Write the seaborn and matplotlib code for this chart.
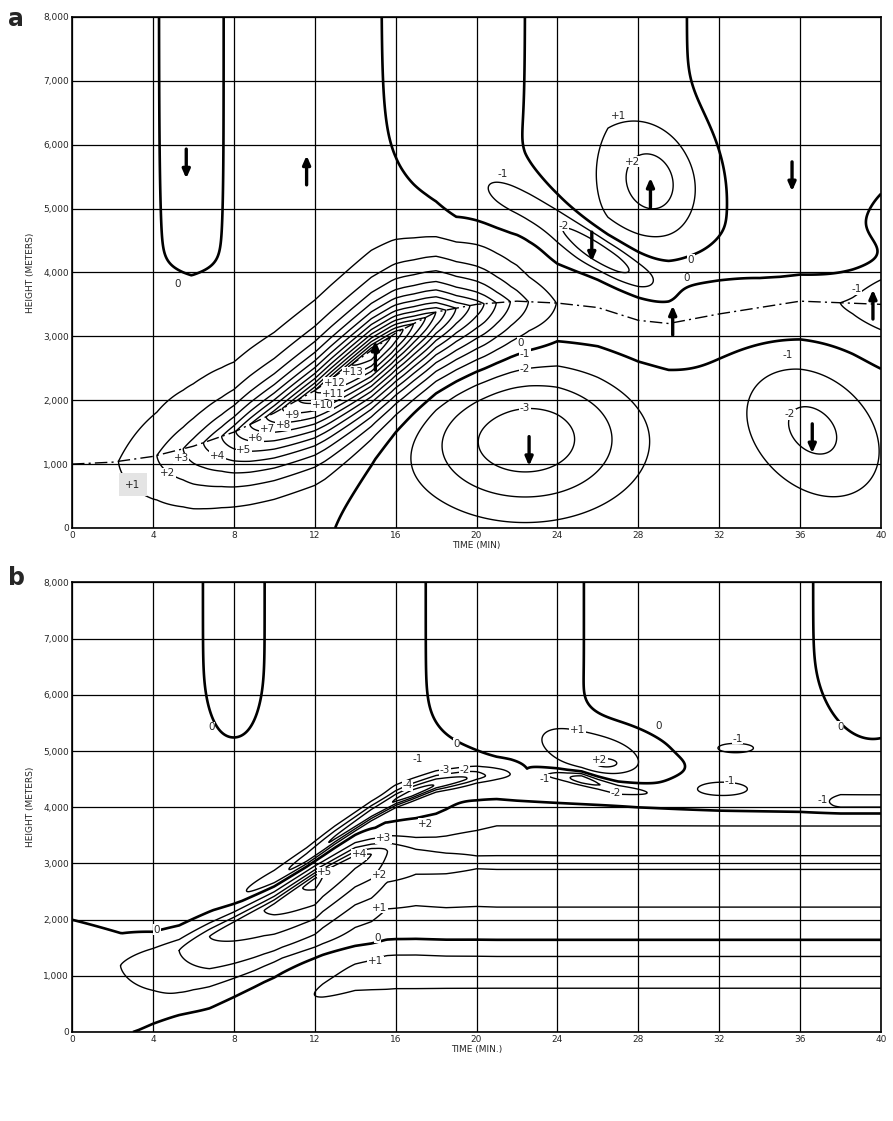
import numpy as np
import matplotlib
matplotlib.use("Agg")
import matplotlib.pyplot as plt
import seaborn as sns

sns.set_style("white")
plt.rcParams["font.family"] = ["DejaVu Sans"]
plt.rcParams["contour.negative_linestyle"] = "solid"

# model grid (time in min, height in km)
t = np.linspace(0, 40, 801)
h = np.linspace(0, 8, 801)
T, H = np.meshgrid(t, h)

# ---------------- panel a : values ----------------
# dash-dot ridge axis of the main updraft
ridge_t = [0, 2, 4, 6, 8, 10, 12, 14, 16, 18, 20, 22, 24, 26, 28, 29.5, 32, 36, 40]
ridge_h = [1.0, 1.03, 1.12, 1.28, 1.5, 1.8, 2.15, 2.6, 3.05, 3.38, 3.5, 3.55, 3.52, 3.45, 3.25, 3.2, 3.35, 3.55, 3.5]
# peak vertical velocity along the ridge (m/s)
peak_t = [0, 2.3, 4.2, 5.5, 6.5, 7.4, 8.1, 8.8, 9.6, 10.4, 11.2, 12.0, 12.8, 13.8, 14.8, 15.8, 16.4, 16.9,
          17.5, 18.0, 18.5, 19.0, 19.7, 20.4, 21.0, 21.7, 22.6, 24.0, 26, 30, 34, 37, 38.6, 40]
peak_w = [0.5, 1, 2, 3, 4, 5, 6, 7, 8, 9, 10, 11, 12, 13, 13.9, 13, 12, 11,
          10, 9, 8, 7, 6, 5, 4, 3, 2, 1, 0.9, 0.9, 0.9, 0.9, 0.9, 1.0]
# upper-level column signs
col_t = [0, 2, 4.3, 5.9, 7.5, 11.5, 15.3, 19, 22.4, 26.5, 30.4, 35, 40]
col_w = [0.45, 0.45, 0, -0.7, 0, 0.6, 0, -0.6, 0, 0.6, 0, -0.55, -0.55]
col_base_t = [0, 8, 15, 20, 24, 31, 34, 40]
col_base_h = [4.2, 4.2, 4.5, 4.6, 4.6, 4.4, 4.0, 3.9]
# negative layer just above the ridge, late in the storm
cap_a_t = [0, 22, 25, 27, 40]
cap_a_w = [0, 0, -0.5, -0.7, -0.6]
# closed cells: time, height, peak, width t, width h
cell_a_t = [22.4, 36.6, 25.7, 21.6, 28.8, 41.5]
cell_a_h = [1.4, 1.55, 4.4, 5.1, 5.42, 4.2]
cell_a_w = [-3.1, -1.8, -2.5, -1.0, 2.2, 1.3]
cell_a_st = [5.2, 3.3, 2.9, 2.4, 2.3, 2.6]
cell_a_sh = [1.1, 1.0, 0.3, 0.5, 0.85, 1.3]
cell_a_k = [2.5, 2.5, 2.0, 2.0, 2.0, 2.0]
cell_a_tilt = [0.0, -0.1, -0.2, -0.12, -0.05, 0.0]

arrow_a_t = [5.65, 11.6, 15.0, 25.7, 28.6, 35.6, 29.7, 39.6, 22.6, 36.6]
arrow_a_h = [5.7, 5.6, 2.7, 4.4, 5.25, 5.5, 3.25, 3.5, 1.2, 1.4]
arrow_a_dir = [-1, 1, 1, -1, 1, -1, 1, 1, -1, -1]

lab_a_t = [5.2, 4.75, 5.4, 7.2, 8.5, 9.1, 9.65, 10.45, 10.9, 12.4, 12.9, 13.0, 13.9,
           22.2, 22.4, 22.4, 22.4, 21.3, 24.3, 27.0, 27.7, 30.6, 30.4, 38.8, 35.4, 35.5]
lab_a_h = [3.82, 0.86, 1.09, 1.13, 1.22, 1.41, 1.55, 1.61, 1.77, 1.92, 2.1, 2.27, 2.44,
           2.9, 2.73, 2.49, 1.88, 5.54, 4.73, 6.45, 5.73, 4.2, 3.91, 3.74, 2.70, 1.78]
lab_a_s = ["0", "+2", "+3", "+4", "+5", "+6", "+7", "+8", "+9", "+10", "+11", "+12", "+13",
           "0", "-1", "-2", "-3", "-1", "-2", "+1", "+2", "0", "0", "-1", "-1", "-2"]

# ---------------- panel b ----------------
layer_t = [0, 2.4, 5.3, 8, 10, 12, 14, 15.5, 17, 18.5, 21, 40]
layer_h = [1.0, 1.18, 1.45, 1.9, 2.25, 2.7, 3.1, 3.22, 3.13, 3.06, 3.03, 3.03]
layer_pk_t = [0, 2.4, 5.3, 6.8, 9.5, 11.4, 12.0, 12.4, 14.8, 15.6, 17, 20, 40]
layer_pk_w = [1.25, 1.35, 2.35, 3.35, 4.35, 5.35, 5.7, 5.35, 4.35, 3.35, 2.75, 2.45, 2.45]
layer_lo_t = [0, 4, 12, 20, 40]
layer_lo_w = [1.5, 1.2, 1.05, 1.14, 1.14]
layer_hi_t = [0, 2.5, 4, 8, 12, 15, 18, 21, 40]
layer_hi_w = [0.85, 0.46, 0.32, 0.23, 0.2, 0.25, 0.5, 0.9, 0.9]

down_t = [0, 3.3, 6, 9, 10.4, 12, 14, 16, 40]
down_h = [-1.0, -0.4, 0.2, 0.6, 0.85, 0.95, 1.0, 1.05, 1.05]
down_pk_t = [0, 3, 7, 10, 12, 16, 40]
down_pk_w = [0, -0.4, -0.7, -0.95, -1.1, -1.15, -1.15]
down_lo_t = [0, 10, 14, 40]
down_lo_w = [0.8, 0.8, 0.35, 0.35]

shear_t = [7, 8.4, 10, 11.6, 13, 14.8, 16, 18, 20, 21.7, 23]
shear_h = [2.3, 2.45, 2.72, 3.08, 3.45, 3.88, 4.12, 4.4, 4.55, 4.6, 4.6]
shear_pk_t = [7, 8.4, 10.5, 12.5, 15, 16.8, 18.2, 19.5, 20.3, 21.7, 22.5]
shear_pk_w = [0, -0.7, -1.7, -2.7, -3.3, -4.1, -3.2, -2.5, -1.7, -0.7, 0]

shear2_t = [22.5, 24, 25.2, 27, 29, 31]
shear2_h = [4.62, 4.57, 4.5, 4.32, 4.25, 4.2]
shear2_pk_t = [22.5, 23.3, 24.5, 25.2, 26, 27.3, 29, 30]
shear2_pk_w = [0, -0.8, -2.0, -3.2, -2.2, -1.4, -0.4, 0]

cap_t = [18, 20, 24, 28, 32, 36, 40]
cap_h = [4.4, 4.3, 4.2, 4.1, 4.05, 4.03, 4.03]
cap_pk_t = [18, 22, 30, 36, 38, 40]
cap_pk_w = [-0.3, -0.7, -0.9, -1.0, -1.5, -1.5]

cell_b_t = [32.8, 32.1, 25.9, 26.45]
cell_b_h = [5.05, 4.35, 4.95, 4.77]
cell_b_w = [-1.0, -1.0, 2.0, 0.8]
cell_b_st = [1.6, 1.6, 3.0, 0.8]
cell_b_sh = [0.15, 0.15, 0.5, 0.1]
cell_b_tilt = [0, 0, -0.06, 0]
# open-topped columns aloft: centre time, half width, base height, base curvature, strength
colb_t = [8.0, 21.4, 39.6]
colb_half = [1.6, 4.1, 3.1]
colb_base = [5.3, 5.1, 5.35]
colb_curv = [0.6, 0.3, 0.8]
colb_w = [0.8, 0.8, 0.8]
background_b = -0.35

lab_b_t = [6.9, 17.1, 19.0, 18.45, 19.4, 16.6, 23.35, 26.9, 25.0, 26.1, 29.0, 38.0, 32.9, 32.5, 37.1,
           17.5, 15.4, 14.2, 12.5, 15.2, 15.2, 15.1, 15.0, 4.2]
lab_b_h = [5.42, 4.86, 5.13, 4.66, 4.66, 4.39, 4.5, 4.26, 5.37, 4.84, 5.45, 5.43, 5.22, 4.46, 4.13,
           3.71, 3.45, 3.16, 2.84, 2.79, 2.21, 1.68, 1.26, 1.82]
lab_b_s = ["0", "-1", "0", "-3", "-2", "-4", "-1", "-2", "+1", "+2", "0", "0", "-1", "-1", "-1",
           "+2", "+3", "+4", "+5", "+2", "+1", "0", "+1", "0"]


def interp(kt, kv):
    return np.interp(T, kt, kv)


def tube(pt, ph, at, av, wlo, whi, p_lo=1.5, p_hi=1.5):
    dz = H - interp(pt, ph)
    lo = np.exp(-(np.abs(dz) / wlo) ** p_lo)
    hi = np.exp(-(np.abs(dz) / whi) ** p_hi)
    return interp(at, av) * np.where(dz < 0, lo, hi)


def blob(t0, h0, a, st, sh, k=2.0, tilt=0.0):
    u = (T - t0) / st
    v = (H - h0 - tilt * (T - t0)) / sh
    return a * np.exp(-(u * u + v * v) ** (k / 2))


def ramp(x, edge):
    return 0.5 * (1 + np.tanh(x / edge))


def column(t0, half, base, curv, a):
    u = (T - t0) / half
    return a * np.exp(-np.abs(u) ** 4) * ramp(H - base - curv * u * u, 0.5)


# field a
wa = tube(ridge_t, ridge_h, peak_t, peak_w,
          interp([0, 4, 8, 12, 40], [0.95, 0.88, 0.82, 0.86, 0.8]),
          interp([0, 2, 4, 6, 8, 10, 40], [1.2, 1.15, 1.0, 0.78, 0.62, 0.59, 0.59]), p_lo=1.6, p_hi=1.0)
wa += interp(col_t, col_w) * ramp(H - interp(col_base_t, col_base_h), 0.3)
wa += interp([0, 12.5, 15, 40], [0, 0, -0.35, -0.35]) * ramp(interp(ridge_t, ridge_h) - 0.4 - H, 0.3)
wa += tube(ridge_t, [v + 0.75 for v in ridge_h], cap_a_t, cap_a_w, 0.3, 0.35, p_lo=2, p_hi=2)
for i in range(len(cell_a_t)):
    wa += blob(cell_a_t[i], cell_a_h[i], cell_a_w[i], cell_a_st[i], cell_a_sh[i], cell_a_k[i], cell_a_tilt[i])

# field b
wb = background_b + tube(layer_t, layer_h, layer_pk_t, layer_pk_w,
                         interp(layer_lo_t, layer_lo_w), interp(layer_hi_t, layer_hi_w))
wb += tube(down_t, down_h, down_pk_t, down_pk_w, interp(down_lo_t, down_lo_w), 0.544, p_lo=4, p_hi=4)
wb += tube(shear_t, shear_h, shear_pk_t, shear_pk_w, 0.1, 0.18, p_lo=2, p_hi=2)
wb += tube(shear2_t, shear2_h, shear2_pk_t, shear2_pk_w, 0.1, 0.12, p_lo=2, p_hi=2)
wb += tube(cap_t, cap_h, cap_pk_t, cap_pk_w, 0.15, 0.4, p_lo=2, p_hi=2)
for i in range(len(cell_b_t)):
    wb += blob(cell_b_t[i], cell_b_h[i], cell_b_w[i], cell_b_st[i], cell_b_sh[i], 2.0, cell_b_tilt[i])
for i in range(len(colb_t)):
    wb += column(colb_t[i], colb_half[i], colb_base[i], colb_curv[i], colb_w[i])

fig = plt.figure(figsize=(8.93, 11.21), dpi=100)
ax_a = fig.add_axes([0.0806, 0.529, 0.906, 0.456])
ax_b = fig.add_axes([0.0806, 0.0794, 0.906, 0.401])


def draw(ax, field, levels, labs, xlabel):
    ax.set_xlim(0, 40)
    ax.set_ylim(0, 8000)
    ax.set_xticks(range(0, 41, 4))
    ax.set_yticks(range(0, 8001, 1000))
    ax.set_yticklabels([f"{v:,}" for v in range(0, 8001, 1000)])
    ax.grid(True, color="black", lw=0.9)
    ax.tick_params(length=0, labelsize=6.5, pad=2)
    for s in ax.spines.values():
        s.set_color("black")
        s.set_linewidth(1.2)
    lws = [1.9 if lv == 0 else 1.0 for lv in levels]
    ax.contour(T, H * 1000, field, levels=levels, colors="black", linewidths=lws, zorder=3)
    for tt, hh, s in zip(*labs):
        ax.text(tt, hh * 1000, s, fontsize=7.5, ha="center", va="center", zorder=5,
                bbox=dict(boxstyle="square,pad=0.05", fc="white", ec="none"))
    ax.set_xlabel(xlabel, fontsize=6.5, labelpad=1)
    ax.set_ylabel("HEIGHT (METERS)", fontsize=6.5, labelpad=6)


draw(ax_a, wa, list(range(-3, 14)), (lab_a_t, lab_a_h, lab_a_s), "TIME (MIN)")
draw(ax_b, wb, list(range(-4, 6)), (lab_b_t, lab_b_h, lab_b_s), "TIME (MIN.)")

# ridge axis
sns.lineplot(x=ridge_t, y=[v * 1000 for v in ridge_h], ax=ax_a, color="black", lw=1.0,
             linestyle=(0, (9, 3, 1.5, 3)), zorder=4)
# grey box label
ax_a.text(3.0, 680, "+1", fontsize=7.5, ha="center", va="center", zorder=5,
          bbox=dict(boxstyle="square,pad=0.6", fc="#e4e4e4", ec="none"))
# arrows
for tt, hh, d in zip(arrow_a_t, arrow_a_h, arrow_a_dir):
    ax_a.annotate("", xy=(tt, hh * 1000 + d * 230), xytext=(tt, hh * 1000 - d * 230),
                  arrowprops=dict(arrowstyle="-|>,head_length=0.5,head_width=0.22", lw=2.4,
                                  color="black", shrinkA=0, shrinkB=0), zorder=6)

fig.text(0.009, 0.983, "a", fontsize=17, fontweight="bold", va="center")
fig.text(0.009, 0.484, "b", fontsize=17, fontweight="bold", va="center")

fig.savefig("out.png", dpi=100, facecolor="white")
